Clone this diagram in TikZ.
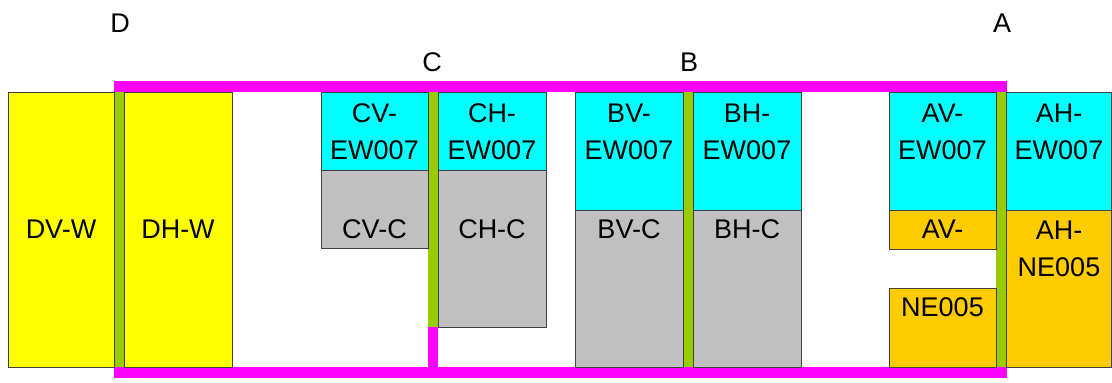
\documentclass[tikz,border=0pt]{standalone}
\usepackage{fontspec}
\setmainfont{Liberation Sans}
\definecolor{mag}{HTML}{FF00FF}
\definecolor{grn}{HTML}{99CC00}
\definecolor{cyn}{HTML}{00FFFF}
\definecolor{ylw}{HTML}{FFFF00}
\definecolor{gry}{HTML}{C0C0C0}
\definecolor{org}{HTML}{FFCC00}
\definecolor{edge}{HTML}{404040}
\newcommand{\lblfont}{\fontsize{27}{37}\selectfont}
\begin{document}
\begin{tikzpicture}[x=1pt,y=-1pt,
  box/.style={draw=edge,line width=1pt},
  lbl/.style={font=\lblfont,align=center,inner sep=0pt,text=black}]
\useasboundingbox (0,0) rectangle (1112,383);
% magenta frame
\fill[mag] (114,81) rectangle (1007,92);
\fill[mag] (114,367) rectangle (1007,378);
\fill[mag] (428,327) rectangle (438,367);
% green dividers
\fill[grn] (114,92) rectangle (124,367);
\fill[grn] (428,92) rectangle (438,327);
\fill[grn] (683,92) rectangle (693,367);
\fill[grn] (996,92) rectangle (1006,367);
% boxes
\draw[box,fill=ylw] (8,92) rectangle (114,367);
\draw[box,fill=ylw] (124,92) rectangle (232,367);
\draw[box,fill=cyn] (321,92) rectangle (428,170);
\draw[box,fill=gry] (321,170) rectangle (428,248);
\draw[box,fill=cyn] (438,92) rectangle (546,170);
\draw[box,fill=gry] (438,170) rectangle (546,327);
\draw[box,fill=cyn] (575,92) rectangle (683,210);
\draw[box,fill=gry] (575,210) rectangle (683,367);
\draw[box,fill=cyn] (693,92) rectangle (801,210);
\draw[box,fill=gry] (693,210) rectangle (801,367);
\draw[box,fill=cyn] (889,92) rectangle (996,210);
\draw[box,fill=org] (889,210) rectangle (996,249);
\draw[box,fill=org] (889,288) rectangle (996,367);
\draw[box,fill=cyn] (1006,92) rectangle (1111.5,210);
\draw[box,fill=org] (1006,210) rectangle (1111.5,367);
% labels
\node[lbl] (lD) at (120,23) {D};
\node[lbl] (lC) at (432,62) {C};
\node[lbl] (lB) at (689,62) {B};
\node[lbl] (lA) at (1002,23) {A};
\node[lbl] (tDV) at (61,229) {DV-W};
\node[lbl] (tDH) at (178,229) {DH-W};
\node[lbl] (tCVE) at (374.5,131.5) {CV-\\EW007};
\node[lbl] (tCVC) at (374.5,229) {CV-C};
\node[lbl] (tCHE) at (492,131.5) {CH-\\EW007};
\node[lbl] (tCHC) at (492,229) {CH-C};
\node[lbl] (tBVE) at (629,131.5) {BV-\\EW007};
\node[lbl] (tBVC) at (629,229) {BV-C};
\node[lbl] (tBHE) at (747,131.5) {BH-\\EW007};
\node[lbl] (tBHC) at (747,229) {BH-C};
\node[lbl] (tAVE) at (942.5,131.5) {AV-\\EW007};
\node[lbl] (tAVa) at (942.5,229) {AV-};
\node[lbl] (tAVb) at (942.5,307) {NE005};
\node[lbl] (tAHE) at (1059,131.5) {AH-\\EW007};
\node[lbl] (tAHN) at (1059,248.5) {AH-\\NE005};
\end{tikzpicture}
\end{document}
